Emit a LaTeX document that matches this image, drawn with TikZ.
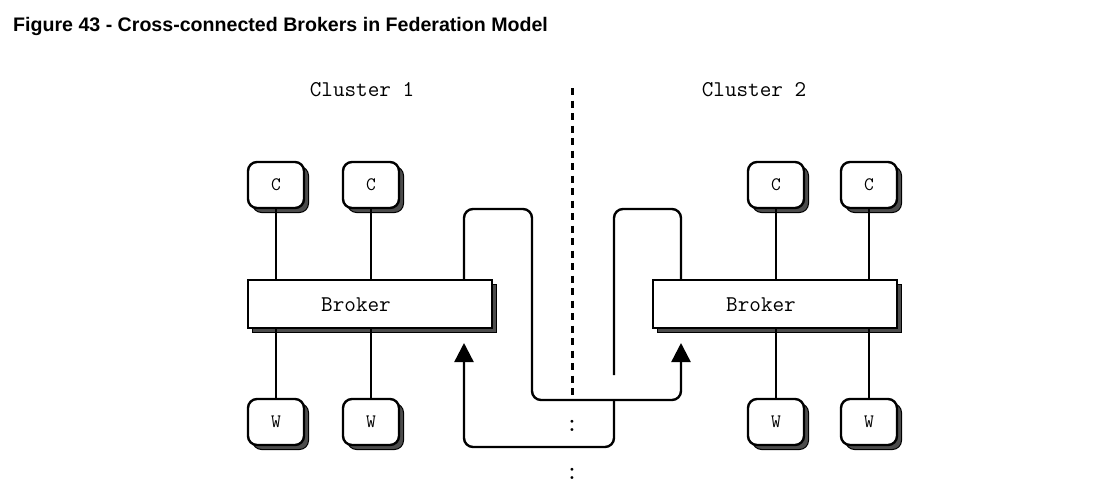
\documentclass[tikz,border=0pt]{standalone}
\usepackage{fontspec}
\newfontfamily\titlefont{Liberation Sans}
\usetikzlibrary{arrows.meta,shadows}
\begin{document}
\begin{tikzpicture}[x=1pt,y=-1pt,line width=2.4pt,
  shadowed/.style={general shadow={shadow xshift=4.5pt,shadow yshift=-4.5pt,fill=black!70,draw=black,line width=1pt}},
  cbox/.style={draw,fill=white,rounded corners=9pt,minimum width=56pt,minimum height=46pt,inner sep=0pt,
    line width=2.4pt,font=\ttfamily\fontsize{19}{19}\selectfont,shadowed},
  brokerbox/.style={draw,fill=white,minimum width=244pt,minimum height=48pt,inner sep=0pt,line width=2.4pt,shadowed},
  mono/.style={font=\ttfamily\fontsize{22.5}{24}\selectfont,inner sep=0pt},
  conn/.style={line width=2.4pt,rounded corners=9pt},
  arr/.style={conn,-{Triangle[width=19pt,length=19pt]}},
]
\useasboundingbox (0,0) rectangle (1098,496);
\node[anchor=base west,inner sep=0pt,font=\titlefont\bfseries\fontsize{19.6}{22}\selectfont] (title) at (12,31)
  {Figure 43 - Cross-connected Brokers in Federation Model};

\node[mono,anchor=base] (cl1) at (362,96) {Cluster 1};
\node[mono,anchor=base] (cl2) at (754,96) {Cluster 2};

% divider
\coordinate (dtop) at (572,88);
\coordinate (dbot) at (572,396);
\draw[line width=3pt,dash pattern=on 7pt off 5.5pt] (dtop) -- (dbot);
\node[mono,font=\ttfamily\fontsize{26}{26}\selectfont] (col1) at (572,426) {:};
\node[mono,font=\ttfamily\fontsize{26}{26}\selectfont] (col2) at (572,474) {:};

% brokers
\node[brokerbox] (b1) at (370,304) {};
\node[brokerbox] (b2) at (775,304) {};
\node[mono] (b1t) at (356,305) {Broker};
\node[mono] (b2t) at (761,305) {Broker};

% C and W
\node[cbox] (c1) at (276,185) {C};
\node[cbox] (c2) at (371,185) {C};
\node[cbox] (c3) at (776,185) {C};
\node[cbox] (c4) at (869,185) {C};
\node[cbox] (w1) at (276,422) {W};
\node[cbox] (w2) at (371,422) {W};
\node[cbox] (w3) at (776,422) {W};
\node[cbox] (w4) at (869,422) {W};

\foreach \n in {c1,c2}{\draw (\n.south) -- (\n.south |- b1.north);}
\foreach \n in {c3,c4}{\draw (\n.south) -- (\n.south |- b2.north);}
\foreach \n in {w1,w2}{\draw (b1.south -| \n.north) -- (\n.north);}
\foreach \n in {w3,w4}{\draw (b2.south -| \n.north) -- (\n.north);}

% cross connections
\coordinate (la) at (464,209);
\coordinate (lb) at (532,209);
\coordinate (lc) at (532,400);
\coordinate (ld) at (681,400);
\coordinate (tipR) at (681,343);
\draw[arr] (b1.north -| la) -- (la) -- (lb) -- (lc) -- (ld) -- (tipR);

\coordinate (ra) at (681,209);
\coordinate (rb) at (614,209);
\coordinate (rend) at (614,375);
\draw[conn] (b2.north -| ra) -- (ra) -- (rb) -- (rend);

\coordinate (ma) at (614,400);
\coordinate (mb) at (614,447);
\coordinate (mc) at (464,447);
\coordinate (tipL) at (464,343);
\draw[arr] (ma) -- (mb) -- (mc) -- (tipL);
\end{tikzpicture}
\end{document}
